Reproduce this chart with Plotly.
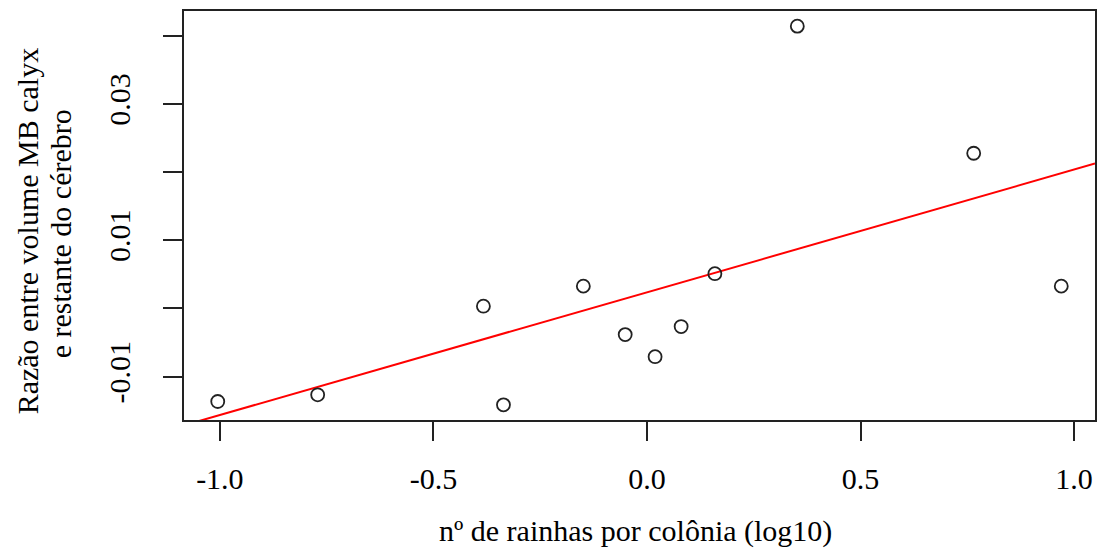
import numpy as np
import plotly.graph_objects as go

# Data
queens_log10 = [-1.005, -0.771, -0.383, -0.336, -0.149, -0.051, 0.019, 0.080, 0.159, 0.352, 0.765, 0.970]
calyx_ratio = [-0.01365, -0.01267, 0.00034, -0.01414, 0.00328, -0.00383, -0.00707, -0.00265, 0.00511, 0.04143, 0.02278, 0.00328]

x_ticks = [-1.0, -0.5, 0.0, 0.5, 1.0]
x_ticktext = ["-1.0", "-0.5", "0.0", "0.5", "1.0"]
y_ticks = [-0.01, 0.0, 0.01, 0.02, 0.03, 0.04]
y_ticktext = ["-0.01", "", "0.01", "", "0.03", ""]

x_title = "nº de rainhas por colônia (log10)"
y_title_1 = "Razão entre volume MB calyx"
y_title_2 = "e restante do cérebro"

# R-style ranges (4% extension)
xa = np.array(queens_log10)
ya = np.array(calyx_ratio)
dx = xa.max() - xa.min()
dy = ya.max() - ya.min()
xr = [xa.min() - 0.04 * dx, xa.max() + 0.04 * dx]
yr = [ya.min() - 0.04 * dy, ya.max() + 0.04 * dy]

slope, intercept = np.polyfit(xa, ya, 1)
line_x = np.array(xr)
line_y = intercept + slope * line_x

FONT = "Liberation Serif, Times New Roman, serif"

fig = go.Figure()
fig.add_trace(go.Scatter(
    x=line_x, y=line_y, mode="lines",
    line=dict(color="#ff0000", width=2),
    showlegend=False, hoverinfo="skip", cliponaxis=True,
))
fig.add_trace(go.Scatter(
    x=queens_log10, y=calyx_ratio, mode="markers",
    marker=dict(symbol="circle-open", size=13, color="#222222", line=dict(width=1.8, color="#222222")),
    showlegend=False,
))

fig.update_layout(
    width=1101, height=548,
    margin=dict(l=184, r=4, t=11, b=128),
    paper_bgcolor="white", plot_bgcolor="white",
    font=dict(family=FONT, size=30, color="black"),
    xaxis=dict(
        range=xr, tickvals=x_ticks, ticktext=x_ticktext,
        ticks="outside", ticklen=19, tickwidth=2, tickcolor="#222222",
        showline=True, linewidth=2, linecolor="#222222", mirror=True,
        showgrid=False, zeroline=False,
        tickfont=dict(family=FONT, size=30, color="black"),
        ticklabelstandoff=12,
    ),
    yaxis=dict(
        range=yr, tickvals=y_ticks, ticktext=y_ticktext,
        ticks="outside", ticklen=19, tickwidth=2, tickcolor="#222222",
        showline=True, linewidth=2, linecolor="#222222", mirror=True,
        showgrid=False, zeroline=False, tickangle=-90,
        tickfont=dict(family=FONT, size=30, color="black"),
        ticklabelstandoff=21,
    ),
    annotations=[
        dict(text=x_title, xref="paper", yref="paper", x=(636 - 184) / 913, y=-(531 - 420) / 409,
             xanchor="center", yanchor="middle", showarrow=False,
             font=dict(family=FONT, size=30, color="black")),
        dict(text=y_title_1, xref="paper", yref="paper", x=(27 - 184) / 913, y=(420 - 231) / 409,
             xanchor="center", yanchor="middle", textangle=-90, showarrow=False,
             font=dict(family=FONT, size=30, color="black")),
        dict(text=y_title_2, xref="paper", yref="paper", x=(60 - 184) / 913, y=(420 - 234) / 409,
             xanchor="center", yanchor="middle", textangle=-90, showarrow=False,
             font=dict(family=FONT, size=30, color="black")),
    ],
)

fig.write_html(
    "out.html",
    config={"displayModeBar": False},
    post_script="document.body.style.margin='0';document.body.style.overflow='hidden';",
)
